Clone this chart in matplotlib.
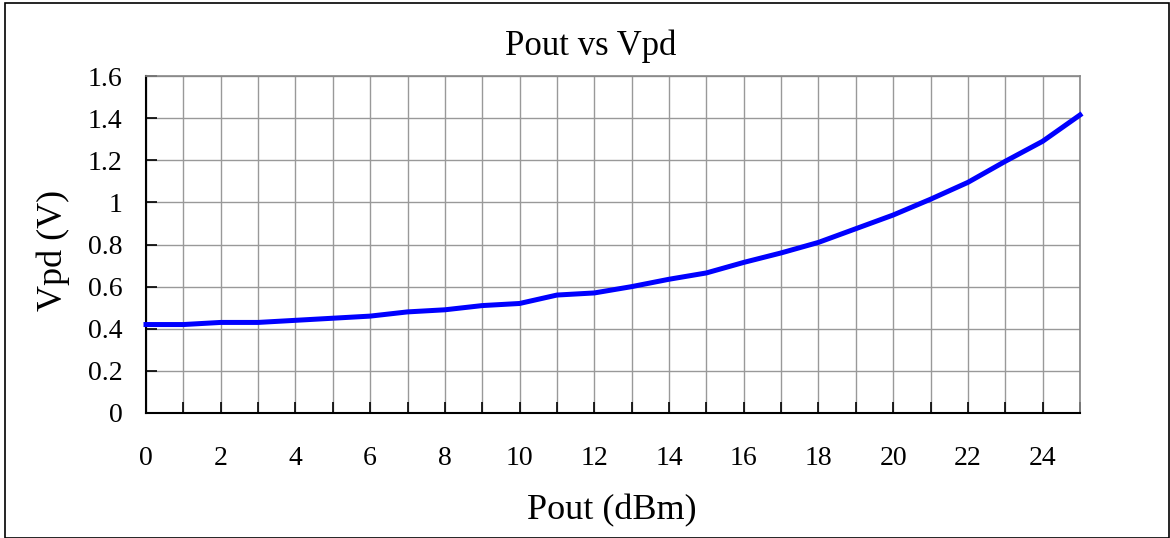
import matplotlib
matplotlib.use("Agg")
import matplotlib.pyplot as plt
from matplotlib.patches import Rectangle

pout = list(range(0, 26))
vpd = [0.42, 0.42, 0.43, 0.43, 0.44, 0.45, 0.46, 0.48, 0.49, 0.51, 0.52,
       0.56, 0.57, 0.60, 0.635, 0.665, 0.715, 0.76, 0.81, 0.875, 0.94,
       1.015, 1.095, 1.195, 1.29, 1.415]
xtick_vals = list(range(0, 26))
xtick_labels = [str(v) if (v % 2 == 0 and v <= 24) else "" for v in xtick_vals]
ytick_vals = [0, 0.2, 0.4, 0.6, 0.8, 1, 1.2, 1.4, 1.6]
ytick_labels = ["0", "0.2", "0.4", "0.6", "0.8", "1", "1.2", "1.4", "1.6"]

plt.rcParams['font.family'] = ['Liberation Serif', 'DejaVu Serif']

W, H = 1170, 538
fig = plt.figure(figsize=(W/100, H/100), dpi=100)
ax = fig.add_axes([146/W, 1-413/H, (1080-146)/W, (413-76)/H])

fig.patches.append(Rectangle((5/W, 1-537.5/H), (1169.3-5)/W, (537.5-3)/H, transform=fig.transFigure,
                             fill=False, edgecolor='black', linewidth=1.2))

ax.plot(pout, vpd, color='#0000FF', linewidth=3.6, solid_joinstyle='round', zorder=3, clip_on=False)

ax.set_xlim(0, 25)
ax.set_ylim(0, 1.6)
ax.set_xticks(xtick_vals)
ax.set_xticklabels(xtick_labels)
ax.set_yticks(ytick_vals)
ax.set_yticklabels(ytick_labels)
ax.grid(True, color='#999999', linewidth=1.0)
ax.set_axisbelow(True)

ax.tick_params(axis='both', direction='in', length=8, width=1.2, color='black', labelsize=20)
ax.tick_params(axis='y', pad=17)
ax.tick_params(axis='x', pad=24)

for s in ['top', 'right']:
    ax.spines[s].set_color('#888888')
    ax.spines[s].set_linewidth(1.2)
for s in ['left', 'bottom']:
    ax.spines[s].set_color('black')
    ax.spines[s].set_linewidth(1.5)

fig.text(591/W, 1-46/H, "Pout vs Vpd", ha='center', va='center', fontsize=25)
fig.text(612/W, 1-511/H, "Pout (dBm)", ha='center', va='center', fontsize=26)
fig.text(53/W, 1-250/H, "Vpd (V)", ha='center', va='center', fontsize=26, rotation=90)

fig.savefig("out.png", dpi=100)
